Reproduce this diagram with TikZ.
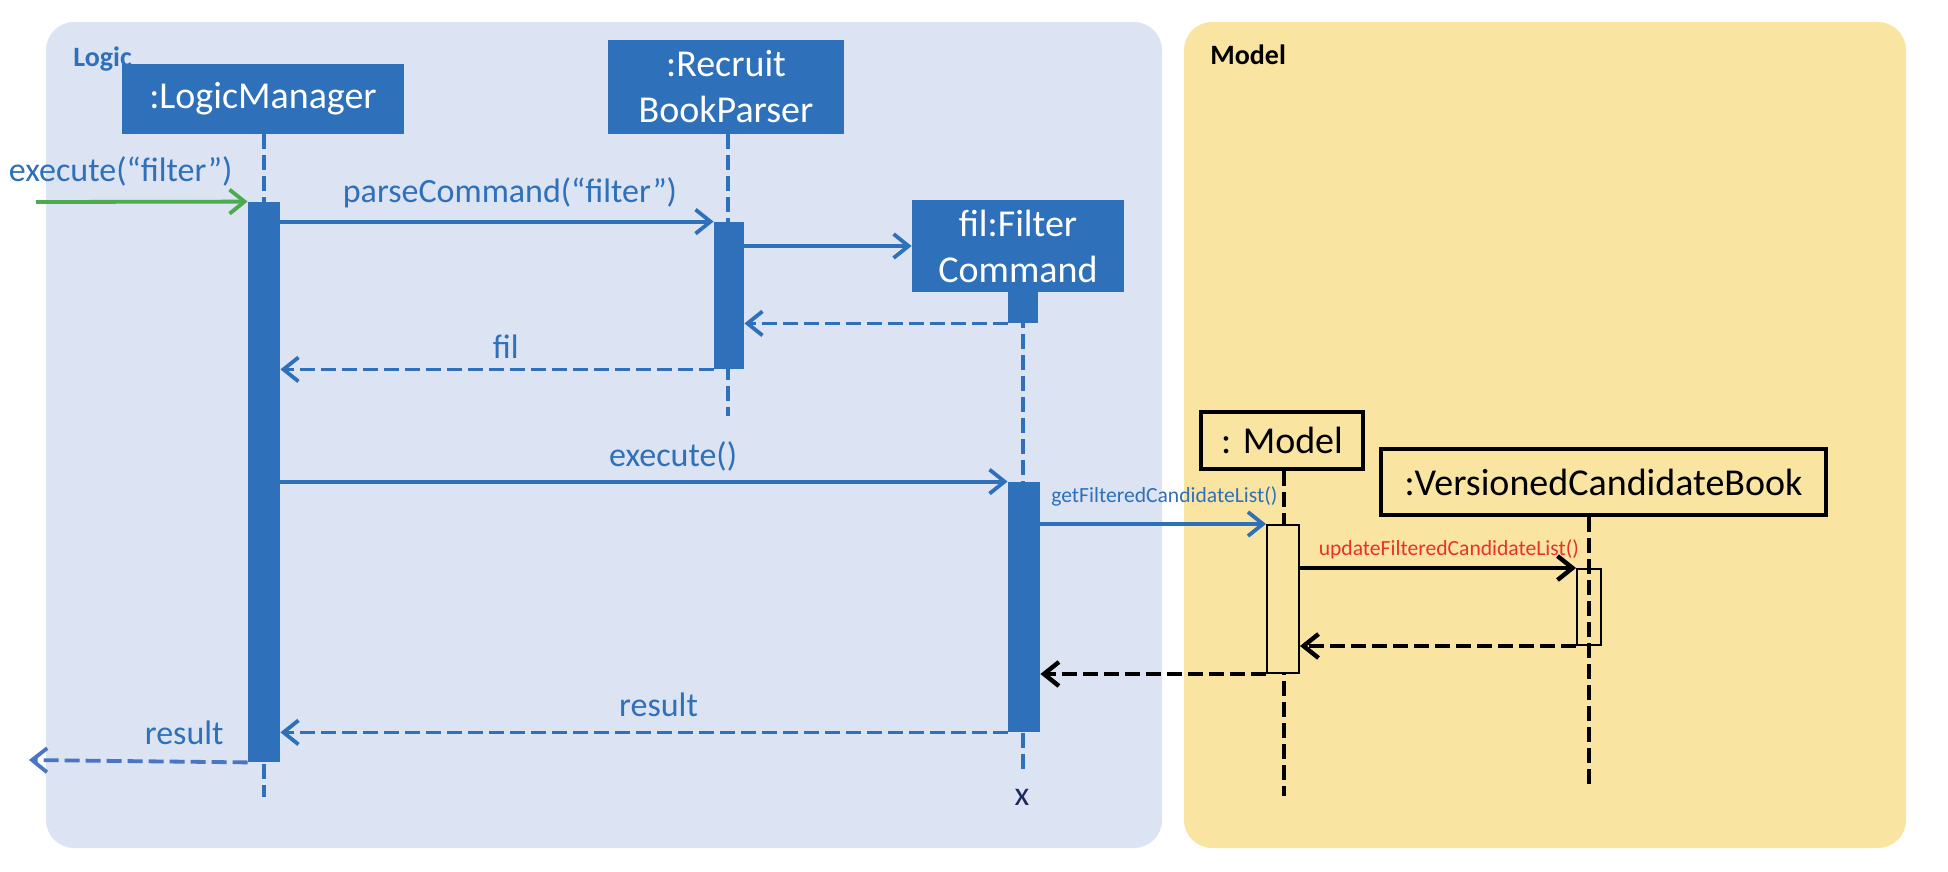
\documentclass[tikz,border=0pt]{standalone}
\usepackage{fontspec}
\setmainfont{Carlito}
\usetikzlibrary{arrows.meta}
\definecolor{boxblue}{HTML}{2E70B9}
\definecolor{logicbg}{HTML}{DCE3F2}
\definecolor{modelbg}{HTML}{F9E5A1}
\definecolor{callgreen}{HTML}{4CAA50}
\definecolor{upred}{HTML}{E8322B}
\definecolor{outblue}{HTML}{4A75C5}
\definecolor{endnavy}{HTML}{1F2A5C}

\begin{document}
\begin{tikzpicture}[x=0.5pt,y=-0.5pt,
  obj/.style={fill=boxblue,text=white,font=\fontsize{19}{23}\selectfont,align=center,inner sep=0pt},
  mobj/.style={draw=black,line width=2.2pt,font=\fontsize{19}{23}\selectfont,inner sep=0pt},
  actb/.style={fill=boxblue,inner sep=0pt},
  actm/.style={draw=black,line width=1pt,inner sep=0pt},
  life/.style={boxblue,line width=1.9pt,dash pattern=on 7.5pt off 3pt},
  mlife/.style={black,line width=2pt,dash pattern=on 7.5pt off 3pt},
  barb/.style={-{Straight Barb[length=7.5pt,width=12pt]}},
  call/.style={boxblue,line width=1.9pt,barb},
  ret/.style={call,dash pattern=on 7.5pt off 3pt},
  mcall/.style={black,line width=2.2pt,barb},
  mret/.style={mcall,dash pattern=on 7.5pt off 3pt},
  msgl/.style={text=boxblue,font=\fontsize{17}{20}\selectfont,anchor=base,inner sep=0pt},
  small/.style={msgl,font=\fontsize{10.8}{13}\selectfont,anchor=base west},
  panel/.style={font=\bfseries\fontsize{14}{17}\selectfont,anchor=base west,inner sep=0pt}
]
\useasboundingbox (0,0) rectangle (1948,872);

% the two layers
\fill[logicbg,rounded corners=14pt] (46,22) rectangle (1162,848);
\fill[modelbg,rounded corners=14pt] (1184,22) rectangle (1906,848);
\node[panel,text=boxblue] (logicLbl) at (73,67) {Logic};
\node[panel,text=black] (modelLbl) at (1210,65) {Model};

% lifeline ends
\coordinate (lmEnd) at (264,797);
\coordinate (rbpEnd) at (728,416);
\coordinate (fcEnd) at (1023,773);
\coordinate (mdlEnd) at (1284,796);
\coordinate (vcbEnd) at (1589,787);
\coordinate (in) at (36,202);
\coordinate (out) at (29,760);

% objects
\node[obj,minimum width=141pt,minimum height=35pt] (lm) at (263,99) {:LogicManager};
\node[obj,minimum width=118pt,minimum height=47pt] (rbp) at (726,87) {:Recruit\\BookParser};
\node[obj,minimum width=106pt,minimum height=46pt] (fc) at (1018,246) {fil:Filter\\Command};
\node[mobj,minimum width=81pt,minimum height=28.5pt] (mdl) at (1282,440.5) {: Model};
\node[mobj,minimum width=222.5pt,minimum height=33pt] (vcb) at (1603.5,482) {:VersionedCandidateBook};

% lifelines
\draw[life] (lmEnd |- lm.south) -- (lmEnd);
\draw[life] (rbpEnd |- rbp.south) -- (rbpEnd);
\draw[life] (fcEnd |- fc.south) -- (fcEnd);
\draw[mlife] (mdlEnd |- mdl.south) -- (mdlEnd);
\draw[mlife] (vcbEnd |- vcb.south) -- (vcbEnd);
\node[text=endnavy,font=\fontsize{17}{20}\selectfont,inner sep=0pt] (fcX) at (1022,797) {x};

% activation bars
\node[actb,minimum width=16pt,minimum height=280pt] (lmAct) at (264,482) {};
\node[actb,minimum width=15pt,minimum height=73.5pt] (rbpAct) at (729,295.5) {};
\node[actb,minimum width=15pt,minimum height=15.5pt] (fcAct0) at (1023,307.5) {};
\node[actb,minimum width=16pt,minimum height=125pt] (fcAct) at (1024,607) {};
\node[actm,fill=modelbg,minimum width=16pt,minimum height=74pt] (mdlAct) at (1283,599) {};
\node[actm,minimum width=12pt,minimum height=38pt] (vcbAct) at (1589,607) {};

% messages
\draw[callgreen,line width=1.9pt,barb] (in) -- (lmAct.north west)
  node[msgl,pos=0.40,yshift=10pt] (inLbl) {execute(“filter”)};
\draw[call] (lmAct.east |- rbpAct.north) -- (rbpAct.north west)
  node[msgl,pos=0.53,yshift=9.5pt] (parseLbl) {parseCommand(“filter”)};
\draw[call] (rbpAct.east |- fc.west) -- (fc.west);
\draw[ret] (fcAct0.south west) -- (rbpAct.east |- fcAct0.south);
\draw[ret] (rbpAct.south west) -- (lmAct.east |- rbpAct.south)
  node[msgl,pos=0.48,yshift=5.5pt] (filLbl) {fil};
\draw[call] (lmAct.east |- fcAct.north) -- (fcAct.north west)
  node[msgl,pos=0.54,yshift=7.5pt] (execLbl) {execute()};
\draw[call] (fcAct.east |- mdlAct.north) -- (mdlAct.north west)
  node[small,pos=0.04,yshift=11pt] (getLbl) {getFilteredCandidateList()};
\draw[mcall] (mdlAct.east |- vcbAct.north) -- (vcbAct.north west)
  node[small,text=upred,pos=0.06,yshift=6.5pt] (updLbl) {updateFilteredCandidateList()};
\draw[mret] (vcbAct.south west) -- (mdlAct.east |- vcbAct.south);
\draw[mret] (mdlAct.south west) -- (fcAct.east |- mdlAct.south);
\draw[ret] (fcAct.south west) -- (lmAct.east |- fcAct.south)
  node[msgl,pos=0.48,yshift=8pt] (resLbl) {result};
\draw[ret,outblue] (lmAct.south west) -- (out)
  node[msgl,pos=0.29,yshift=8.5pt] (outLbl) {result};
\end{tikzpicture}
\end{document}
